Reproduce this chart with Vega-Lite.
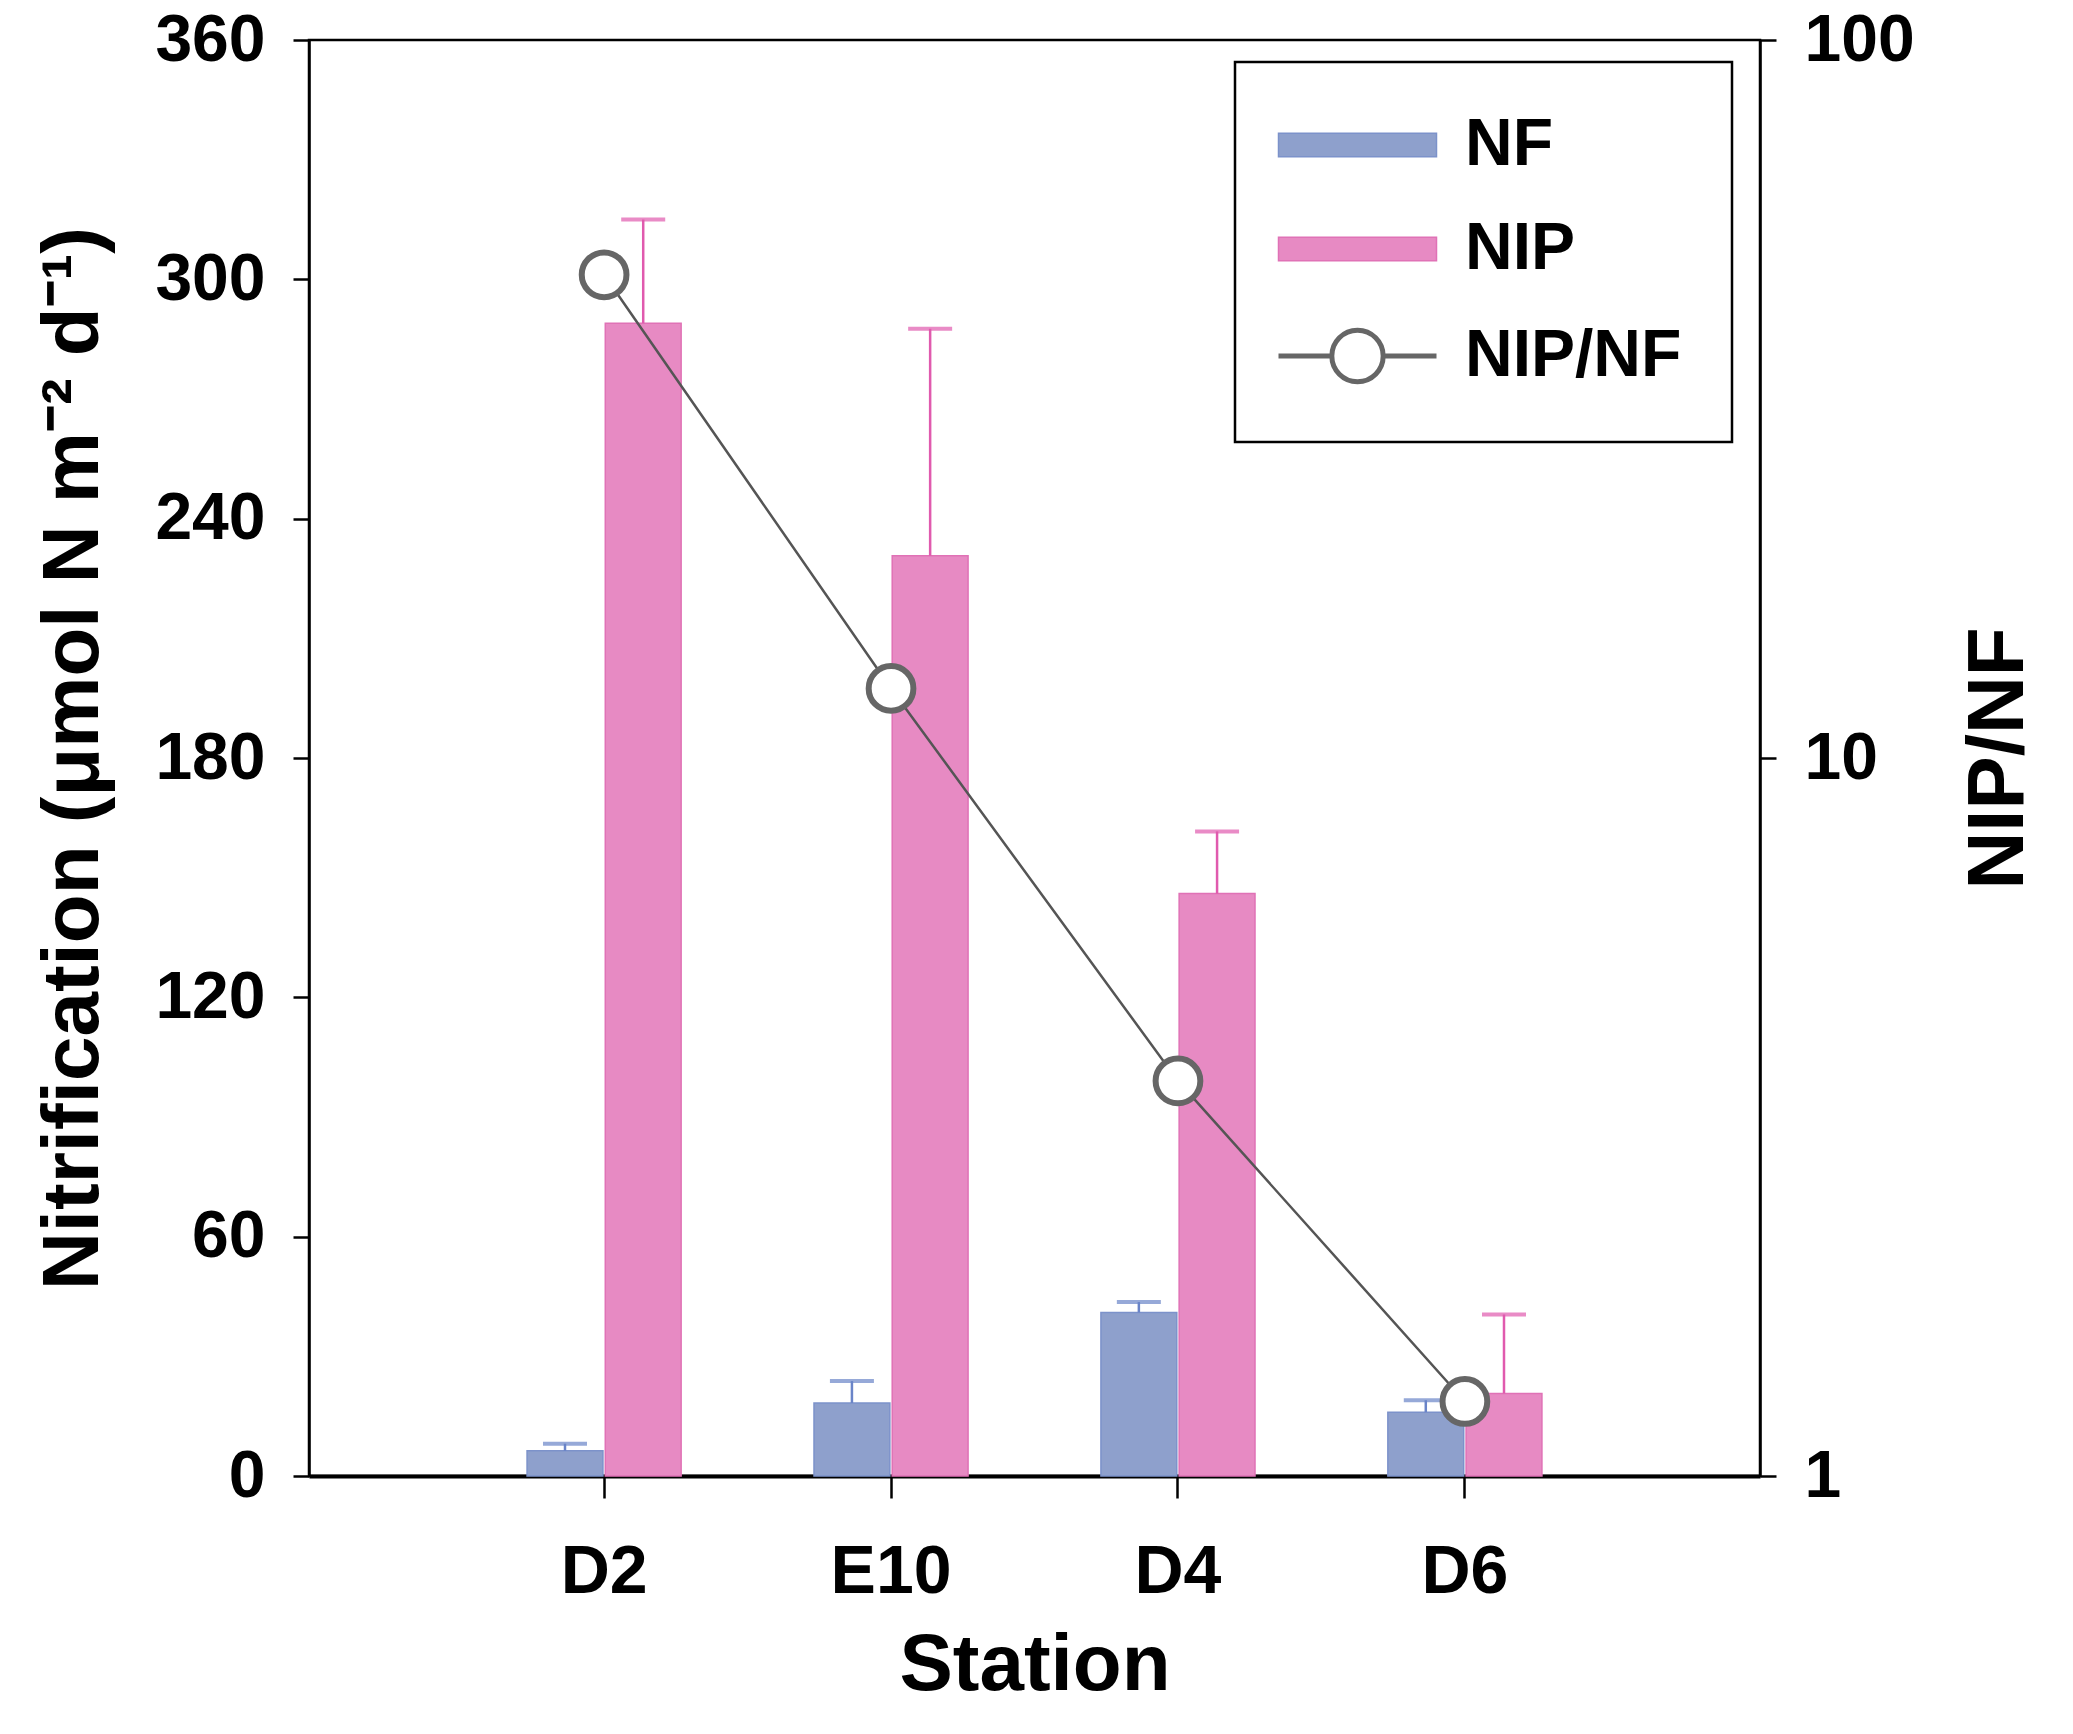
{
  "$schema": "https://vega.github.io/schema/vega-lite/v6.json",
  "width": 1451,
  "height": 1436,
  "autosize": {"type": "none"},
  "padding": {"left": 309, "top": 40, "right": 313, "bottom": 258},
  "config": {
    "font": "Liberation Sans",
    "view": {"stroke": "black", "strokeWidth": 2.5},
    "axis": {
      "grid": false,
      "domainColor": "black",
      "tickColor": "black",
      "labelColor": "black",
      "titleColor": "black",
      "labelFontWeight": "bold",
      "titleFontWeight": "bold"
    }
  },
  "datasets": {
    "bars": [
      {"station": "D2", "series": "NF", "value": 6.3, "hi": 8.1},
      {"station": "D2", "series": "NIP", "value": 289, "hi": 315},
      {"station": "E10", "series": "NF", "value": 18.3, "hi": 23.8},
      {"station": "E10", "series": "NIP", "value": 230.7, "hi": 287.6},
      {"station": "D4", "series": "NF", "value": 41, "hi": 43.6},
      {"station": "D4", "series": "NIP", "value": 146, "hi": 161.6},
      {"station": "D6", "series": "NF", "value": 16, "hi": 19},
      {"station": "D6", "series": "NIP", "value": 20.7, "hi": 40.5}
    ],
    "ratio": [
      {"station": "D2", "ratio": 47.1},
      {"station": "E10", "ratio": 12.5},
      {"station": "D4", "ratio": 3.55},
      {"station": "D6", "ratio": 1.27}
    ]
  },
  "layer": [
    {
      "data": {"name": "bars"},
      "encoding": {
        "x": {
          "field": "station",
          "type": "nominal",
          "sort": ["D2", "E10", "D4", "D6"],
          "scale": {"paddingInner": 0.463, "paddingOuter": 0.76},
          "title": "Station",
          "axis": {
            "labelAngle": 0,
            "tickSize": 22,
            "tickWidth": 2.5,
            "domainWidth": 4,
            "labelFontSize": 68,
            "labelPadding": 40,
            "titleFontSize": 80,
            "titlePadding": 20
          }
        },
        "xOffset": {
          "field": "series",
          "type": "nominal",
          "sort": ["NF", "NIP"],
          "scale": {"paddingInner": 0.03}
        },
        "y": {
          "field": "value",
          "type": "quantitative",
          "scale": {"domain": [0, 360]},
          "title": "Nitrification (μmol N m⁻² d⁻¹)",
          "axis": {
            "values": [0, 60, 120, 180, 240, 300, 360],
            "tickSize": 16,
            "tickWidth": 2.5,
            "domainWidth": 2.5,
            "labelFontSize": 66,
            "labelPadding": 28,
            "titleFontSize": 80,
            "titlePadding": 40
          }
        }
      },
      "layer": [
        {
          "mark": {"type": "bar", "strokeWidth": 1.5},
          "encoding": {
            "fill": {
              "field": "series",
              "type": "nominal",
              "scale": {
                "domain": ["NF", "NIP", "NIP/NF"],
                "range": ["#8EA0CC", "#E78AC3", "#FFFFFF"]
              },
              "legend": {
                "title": null,
                "orient": "none",
                "legendX": 926,
                "legendY": 22,
                "padding": 50,
                "rowPadding": 38,
                "strokeColor": "black",
                "symbolSize": 6241,
                "symbolType": "M-1,-0.3L3,-0.3L3,0.3L-1,0.3Z",
                "labelOffset": 114,
                "labelLimit": 500,
                "labelFontSize": 66,
                "labelFontWeight": "bold",
                "labelColor": "black",
                "encode": {
                  "legend": {"update": {"strokeWidth": {"value": 2.5}}},
                  "symbols": {
                    "update": {
                      "shape": {"signal": "datum.value === 'NIP/NF' ? 'M-1,0L0.35,0M1.65,0L3,0M1.65,0A0.65,0.65 0 1 1 0.35,0A0.65,0.65 0 1 1 1.65,0' : 'M-1,-0.3L3,-0.3L3,0.3L-1,0.3Z'"},
                      "stroke": {"signal": "datum.value === 'NIP/NF' ? '#666666' : (datum.value === 'NF' ? '#7C92CA' : '#E072B6')"},
                      "strokeWidth": {"signal": "datum.value === 'NIP/NF' ? 5 : 1.5"},
                      "opacity": {"value": 1}
                    }
                  }
                }
              }
            },
            "stroke": {
              "field": "series",
              "type": "nominal",
              "scale": {"domain": ["NF", "NIP"], "range": ["#7C92CA", "#E072B6"]},
              "legend": null
            }
          }
        },
        {
          "mark": {"type": "rule", "strokeWidth": 2.5},
          "encoding": {
            "y2": {"field": "hi"},
            "color": {
              "field": "series",
              "type": "nominal",
              "scale": {"domain": ["NF", "NIP"], "range": ["#6A84C8", "#E05AAE"]},
              "legend": null
            }
          }
        },
        {
          "mark": {"type": "tick", "thickness": 4, "size": 44},
          "encoding": {
            "y": {
              "field": "hi",
              "type": "quantitative",
              "title": "Nitrification (μmol N m⁻² d⁻¹)"
            },
            "color": {
              "field": "series",
              "type": "nominal",
              "scale": {"domain": ["NF", "NIP"], "range": ["#6A84C8", "#E05AAE"]},
              "legend": null
            }
          }
        }
      ]
    },
    {
      "data": {"name": "ratio"},
      "encoding": {
        "x": {
          "field": "station",
          "type": "nominal",
          "sort": ["D2", "E10", "D4", "D6"],
          "title": "Station"
        },
        "y": {
          "field": "ratio",
          "type": "quantitative",
          "scale": {"type": "log", "domain": [1, 100]},
          "title": "NIP/NF",
          "axis": {
            "orient": "right",
            "values": [1, 10, 100],
            "format": "d",
            "tickSize": 16,
            "tickWidth": 2.5,
            "domainWidth": 2.5,
            "labelFontSize": 66,
            "labelPadding": 28,
            "titleFontSize": 80,
            "titleAngle": 270,
            "titlePadding": 125
          }
        }
      },
      "layer": [
        {
          "mark": {"type": "line", "color": "#555555", "strokeWidth": 2.5},
          "encoding": {}
        },
        {
          "mark": {
            "type": "point",
            "shape": "circle",
            "filled": true,
            "fill": "white",
            "stroke": "#666666",
            "strokeWidth": 6,
            "size": 2000,
            "opacity": 1
          },
          "encoding": {}
        }
      ]
    }
  ],
  "resolve": {"scale": {"y": "independent"}}
}
